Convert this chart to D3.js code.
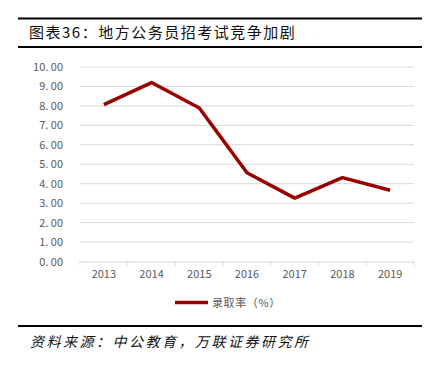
<!DOCTYPE html>
<html>
<head>
<meta charset="utf-8">
<script src="https://d3js.org/d3.v7.min.js"></script>
<style>
  body { margin: 0; background: #fff; }
  text { font-family: "Noto Sans CJK SC", "Noto Sans", sans-serif; }
</style>
</head>
<body>
<div id="chart"></div>
<script>
const years = ['2013', '2014', '2015', '2016', '2017', '2018', '2019'];
const rates = [8.07, 9.2, 7.89, 4.56, 3.26, 4.31, 3.66];
const yTicks = [0, 1, 2, 3, 4, 5, 6, 7, 8, 9, 10];
const titleText = '图表36：地方公务员招考试竞争加剧';
const seriesName = '录取率（%）';
const sourceText = '资料来源：中公教育，万联证券研究所';

const W = 432, H = 365;
const margins = {l: 80, r: 18, t: 67, b: 104};

const svg = d3.select('#chart').append('svg')
    .attr('width', W)
    .attr('height', H);

// header rules + title
svg.append('line').attr('x1', 18).attr('x2', 422).attr('y1', 18.5).attr('y2', 18.5)
    .attr('stroke', '#000').attr('stroke-width', 2);
svg.append('line').attr('x1', 18).attr('x2', 422).attr('y1', 47).attr('y2', 47)
    .attr('stroke', '#000').attr('stroke-width', 2);
svg.append('text')
    .attr('x', 29).attr('y', 38)
    .attr('font-size', 15)
    .attr('letter-spacing', 1.5)
    .attr('fill', '#111')
    .text(titleText);

let x = d3.scaleBand().domain(years).range([margins.l, 414]);
let y = d3.scaleLinear().domain([0, 10]).range([261.5, 67]);

// gridlines
svg.append('g')
    .selectAll('line')
    .data(yTicks.slice(1))
    .enter().append('line')
    .attr('x1', margins.l).attr('x2', 414)
    .attr('y1', d => y(d)).attr('y2', d => y(d))
    .attr('stroke', '#d9d9d9').attr('stroke-width', 1);

// y axis labels
let yAxis = svg.append('g')
    .attr('transform', `translate(${margins.l},0)`)
    .call(d3.axisLeft(y).tickValues(yTicks).tickFormat(d => d3.format('.2f')(d).replace('.', '. ')).tickSize(0).tickPadding(17));
yAxis.select('.domain').remove();
yAxis.selectAll('text').attr('font-size', 11).attr('fill', '#595959')
    .style('font-family', '"Noto Sans CJK SC", sans-serif');

// x axis
let xAxis = svg.append('g')
    .attr('transform', `translate(0,${y(0)})`)
    .call(d3.axisBottom(x).tickSizeOuter(0).tickSize(0).tickPadding(9));
xAxis.select('.domain').attr('stroke', '#d9d9d9');
xAxis.selectAll('text').attr('font-size', 11).attr('fill', '#595959')
    .style('font-family', '"Noto Sans CJK SC", sans-serif');
// tick marks at band edges
svg.append('g')
    .selectAll('line')
    .data(years.map(d => x(d)).concat([x.range()[1]]))
    .enter().append('line')
    .attr('x1', d => d).attr('x2', d => d)
    .attr('y1', y(0)).attr('y2', y(0) + 4)
    .attr('stroke', '#d9d9d9');

// series line
let line = d3.line()
    .x((d, i) => x(years[i]) + x.bandwidth() / 2)
    .y(d => y(d));
svg.append('path')
    .datum(rates)
    .attr('d', line)
    .attr('fill', 'none')
    .attr('stroke', '#990000')
    .attr('stroke-width', 3.5)
    .attr('stroke-linejoin', 'round');

// legend
svg.append('line')
    .attr('x1', 175).attr('x2', 208)
    .attr('y1', 302.5).attr('y2', 302.5)
    .attr('stroke', '#990000').attr('stroke-width', 3.5);
svg.append('text')
    .attr('x', 212).attr('y', 306.5)
    .attr('font-size', 11)
    .attr('letter-spacing', 0.6)
    .attr('fill', '#595959')
    .text(seriesName);

// footer
svg.append('line').attr('x1', 18).attr('x2', 422).attr('y1', 326).attr('y2', 326)
    .attr('stroke', '#000').attr('stroke-width', 2);
svg.append('text')
    .attr('x', 30).attr('y', 347)
    .attr('font-size', 14)
    .attr('font-style', 'italic')
    .attr('letter-spacing', 2.5)
    .attr('fill', '#111')
    .text(sourceText);
</script>
</body>
</html>
